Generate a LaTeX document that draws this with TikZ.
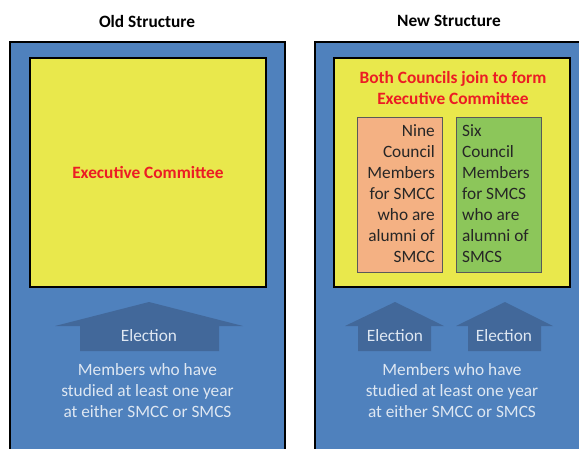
\documentclass[tikz,border=0pt]{standalone}
\usepackage{fontspec}
\setmainfont{Carlito}
\definecolor{bgblue}{RGB}{79,129,189}
\definecolor{arrowblue}{RGB}{66,104,154}
\definecolor{ylw}{RGB}{233,232,76}
\definecolor{salmon}{RGB}{244,177,131}
\definecolor{grn}{RGB}{140,198,90}
\definecolor{lighttxt}{RGB}{222,231,242}
\definecolor{redtxt}{RGB}{236,28,36}
\tikzset{
  x=1pt, y=-1pt,
  basefont/.style={font=\fontsize{17.3}{21}\selectfont, inner sep=0pt},
  title/.style={basefont, font=\fontsize{17.3}{21}\selectfont\bfseries, text=black, anchor=base},
  redlbl/.style={basefont, font=\fontsize{17.3}{21}\selectfont\bfseries, text=redtxt, anchor=base, align=center},
  lightlbl/.style={basefont, text=lighttxt, anchor=base, align=center},
  panel/.style={fill=bgblue, draw=black, line width=2pt},
  ybox/.style={fill=ylw, draw=black, line width=2pt},
  cbox/.style={draw=black!65, line width=0.8pt},
  uparrow/.style={fill=arrowblue, draw=none},
}
\begin{document}
\begin{tikzpicture}
\useasboundingbox (0,0) rectangle (579,448);
\begin{scope}
\clip (0,0) rectangle (579,448);
% panels
\draw[panel] (10,42) rectangle (285,470);
\draw[panel] (315,42) rectangle (589,470);
\draw[ybox] (30,58) rectangle (266,287);
\draw[ybox] (334,58) rectangle (570,287);
\draw[cbox, fill=salmon] (357,117) rectangle (442,272);
\draw[cbox, fill=grn] (456,117) rectangle (541,272);
% arrows
\fill[uparrow] (149,302) -- (243,326) -- (219,326) -- (219,351) -- (80,351) -- (80,326) -- (55,326) -- cycle;
\fill[uparrow] (395,302) -- (444,326) -- (431,326) -- (431,351) -- (358,351) -- (358,326) -- (345,326) -- cycle;
\fill[uparrow] (505,302) -- (553,326) -- (541,326) -- (541,351) -- (468,351) -- (468,326) -- (456,326) -- cycle;
\end{scope}
% titles
\node[title] (oldt) at (147,27) {Old Structure};
\node[title] (newt) at (449,26) {New Structure};
% red labels
\node[redlbl] (exec1) at (148,178) {Executive Committee};
\node[redlbl] (exec2) at (453,104) {Both Councils join to form\\Executive Committee};
% inner boxes text (anchor at last baseline)
\node[basefont, anchor=base east, align=right, text=black!85] (nine) at (435,262.5)
  {Nine\\Council\\Members\\for SMCC\\who are\\alumni of\\SMCC};
\node[basefont, anchor=base west, align=left, text=black!85] (six) at (462,262.5)
  {Six\\Council\\Members\\for SMCS\\who are\\alumni of\\SMCS};
% elections
\node[lightlbl] (el1) at (149,341) {Election};
\node[lightlbl] (el2) at (395,341) {Election};
\node[lightlbl] (el3) at (504,341) {Election};
% members
\node[lightlbl] (mem1) at (147.5,417) {Members who have\\studied at least one year\\at either SMCC or SMCS};
\node[lightlbl] (mem2) at (452,417) {Members who have\\studied at least one year\\at either SMCC or SMCS};
\end{tikzpicture}
\end{document}
